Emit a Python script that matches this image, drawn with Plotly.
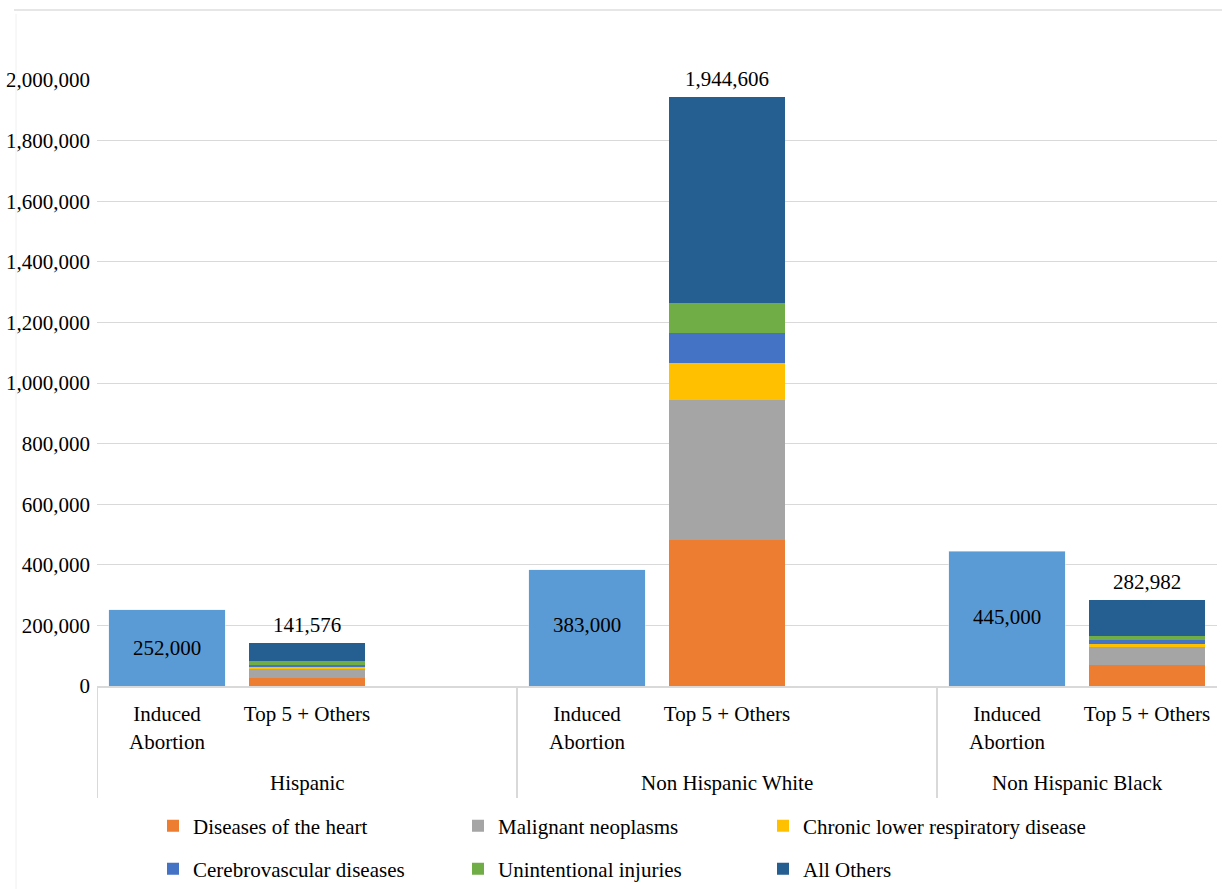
import plotly.graph_objects as go

# ---- data ----
groups = ["Hispanic", "Non Hispanic White", "Non Hispanic Black"]
abortion = [252000, 383000, 445000]
heart = [25000, 482000, 68000]
cancer = [34000, 462000, 62000]
clrd = [4000, 122000, 7000]
stroke = [7000, 99000, 14000]
injuries = [11000, 99000, 14000]
all_others = [60576, 680606, 117982]
totals = [141576, 1944606, 282982]
y_ticks = [0, 200000, 400000, 600000, 800000, 1000000, 1200000, 1400000,
           1600000, 1800000, 2000000]

# ---- layout helpers (slot positions on a numeric axis) ----
abortion_x = [0, 3, 6]
top5_x = [1, 4, 7]
group_center_x = [1, 4, 6.5]
divider_x = [-0.5, 2.5, 5.5]
abortion_label_y = [126000, 201000, 228000]

FONT = "Liberation Serif"
FS = 21

L, R, T, B = 97, 5, 80, 203
W, H = 1222, 889
PW = W - L - R
PH = H - T - B


def px_x(p):
    return (p - L) / PW


def px_y(p):
    return (H - B - p) / PH


fig = go.Figure()

fig.add_trace(go.Bar(x=abortion_x, y=abortion, marker_color="#5B9BD5",
                     showlegend=False, name="Induced Abortion"))

series = [
    ("Diseases of the heart", heart, "#ED7D31"),
    ("Malignant neoplasms", cancer, "#A5A5A5"),
    ("Chronic lower respiratory disease", clrd, "#FFC000"),
    ("Cerebrovascular diseases", stroke, "#4472C4"),
    ("Unintentional injuries", injuries, "#70AD47"),
    ("All Others", all_others, "#255E91"),
]
# legend slots: (text-left pixel x, row centre pixel y)
legend_slots = [(193, 826), (498, 826), (803, 826),
                (193, 869), (498, 869), (803, 869)]

tfont = dict(family=FONT, size=FS, color="black")
legend_layouts = {}
for i, ((name, vals, col), (lx, ly)) in enumerate(zip(series, legend_slots)):
    key = "legend" if i == 0 else f"legend{i + 1}"
    fig.add_trace(go.Bar(x=top5_x, y=vals, name=name, marker_color=col,
                         marker_line_width=0, legend=key))
    legend_layouts[key] = dict(orientation="h", xanchor="left",
                               yanchor="middle", x=px_x(lx - 40),
                               y=px_y(ly), font=tfont,
                               bgcolor="rgba(0,0,0,0)", itemclick=False,
                               itemdoubleclick=False)

annotations = []
for x, v, ly in zip(abortion_x, abortion, abortion_label_y):
    annotations.append(dict(x=x, y=ly, text=f"{v:,}", showarrow=False,
                            font=tfont, yanchor="middle"))
for x, v in zip(top5_x, totals):
    annotations.append(dict(x=x, y=v, text=f"{v:,}", showarrow=False,
                            font=tfont, yanchor="bottom", yshift=4))
for x, g in zip(group_center_x, groups):
    annotations.append(dict(x=x, y=px_y(783), xref="x", yref="paper",
                            text=g, showarrow=False, yanchor="middle",
                            font=tfont))

shapes = []
for x in divider_x:
    shapes.append(dict(type="line", xref="x", yref="paper", x0=x, x1=x,
                       y0=0, y1=px_y(798), line=dict(color="#d9d9d9", width=2)))
# faint outer border of the original chart
shapes.append(dict(type="line", xref="paper", yref="paper",
                   x0=px_x(14), x1=px_x(1222), y0=px_y(10), y1=px_y(10),
                   line=dict(color="#e6e6e6", width=2)))
shapes.append(dict(type="line", xref="paper", yref="paper",
                   x0=px_x(16), x1=px_x(16), y0=px_y(14), y1=px_y(889),
                   line=dict(color="#f0f0f0", width=1)))

fig.update_layout(
    width=W, height=H,
    margin=dict(l=L, r=R, t=T, b=B, autoexpand=False),
    paper_bgcolor="white", plot_bgcolor="white",
    barmode="stack", bargap=0.17,
    font=tfont,
    xaxis=dict(range=[-0.5, 7.5], tickvals=abortion_x + top5_x,
               ticktext=["Induced<br>Abortion"] * 3 + ["Top 5 + Others"] * 3,
               showgrid=False, zeroline=False, showline=True,
               linecolor="#d9d9d9", linewidth=2, ticks="",
               ticklabelstandoff=8, tickfont=tfont),
    yaxis=dict(range=[0, 2000000], tickvals=y_ticks,
               ticktext=[f"{v:,}" for v in y_ticks],
               showgrid=True, gridcolor="#d9d9d9", gridwidth=1,
               zeroline=False, showline=False, ticks="",
               ticklabelstandoff=6, tickfont=tfont),
    annotations=annotations,
    shapes=shapes,
    **legend_layouts,
)

fig.write_html("out.html")
